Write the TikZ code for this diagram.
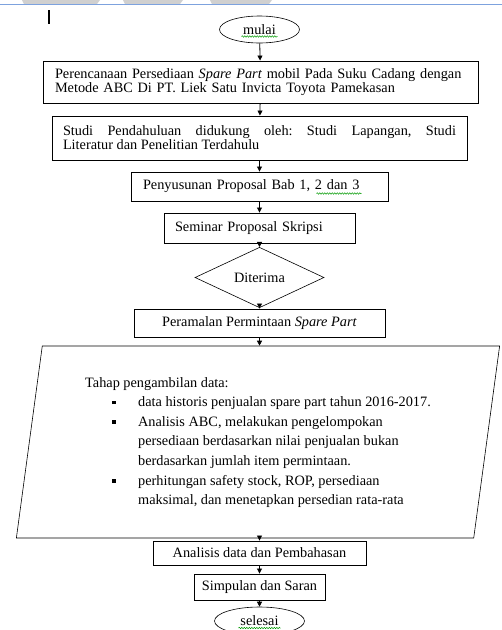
\documentclass[tikz,border=0pt]{standalone}
\usepackage{fontspec}
\setmainfont{Liberation Serif}
\usetikzlibrary{
  calc,
  positioning,
  arrows.meta,
  shapes.geometric,
  decorations.pathmorphing}
\definecolor{rulerblue}{RGB}{125,162,222}
\definecolor{tabgray}{RGB}{208,208,208}
\newcommand{\blt}{\rule[2.5pt]{3.5pt}{3.5pt}}
\frenchspacing

\begin{document}
\begin{tikzpicture}[
  x=1pt, y=-1pt,
  every node/.style={font=\fontsize{14.3}{14}\selectfont},
  proc/.style={rectangle,draw,line width=0.9pt,inner sep=0pt},
  term/.style={ellipse,draw,line width=0.6pt,inner sep=0pt},
  flow/.style={line width=0.8pt,-{Triangle[length=5pt,width=5pt]}},
  spell/.style={green!60!black,line width=0.5pt,decorate,
    decoration={snake,amplitude=0.7pt,segment length=2.5pt}}
]%
  \useasboundingbox (0,0) rectangle (502,630);

  % Window edge
  \fill[tabgray] (22,0) -- (100,0) -- (97,4) -- (24,4) -- cycle;
  \fill[tabgray] (123,0) -- (183,0) -- (180,4) -- (125,4) -- cycle;
  \fill[tabgray] (210,0) -- (272,0) -- (269,4) -- (212,4) -- cycle;
  \draw[rulerblue,line width=0.8pt] (0,4.5) -- (502,4.5);
  \fill (47.6,10) rectangle (50,24);

  % Start
  \node[term,minimum width=80,minimum height=27] (mulai) at (259.5,29.5) {mulai};

  % Preparation
  \node[proc,minimum width=435,minimum height=42,text width=411,align=left]
    (judul) at (260.5,82)
    {\mbox{Perencanaan Persediaan \textit{Spare Part} mobil Pada Suku Cadang dengan}\\
     \mbox{Metode ABC Di PT. Liek Satu Invicta Toyota Pamekasan}};
  \node[proc,minimum width=415,minimum height=44,text width=393,align=justify]
    (studi) at (259.5,138)
    {Studi Pendahuluan didukung oleh: Studi Lapangan, Studi\linebreak
     Literatur dan Penelitian Terdahulu};
  \node[proc,minimum width=257,minimum height=29,text width=233,align=left]
    (proposal) at (259.5,186.5) {Penyusunan Proposal Bab 1, 2 dan 3};
  \node[proc,minimum width=191,minimum height=30,text width=169,align=left]
    (seminar) at (259.5,228) {Seminar Proposal Skripsi};
  \node[diamond,draw,line width=0.6pt,inner sep=0pt,
    minimum width=129,minimum height=39] (terima) at (259.5,277.5) {Diterima};

  % Forecast and data
  \node[proc,minimum width=251,minimum height=28] (ramal) at (259.5,323)
    {Peramalan Permintaan \textit{Spare Part}};
  \node[trapezium,draw,line width=0.6pt,inner sep=0pt,
    trapezium left angle=81.4,trapezium right angle=98.6,
    trapezium stretches=true,minimum width=484,minimum height=192]
    (data) at (258,442)
    {\renewcommand{\arraystretch}{1.4}%
     \begin{tabular}{@{}p{53pt}@{}l@{}}
       \multicolumn{2}{@{}l@{}}{Tahap pengambilan data:}\\
       \hspace*{27pt}\blt & data historis penjualan spare part tahun 2016-2017.\\
       \hspace*{27pt}\blt & Analisis ABC, melakukan pengelompokan\\
                          & persediaan berdasarkan nilai penjualan bukan\\
                          & berdasarkan jumlah item permintaan.\\
       \hspace*{27pt}\blt & perhitungan safety stock, ROP, persediaan\\
                          & maksimal, dan menetapkan persedian rata-rata
     \end{tabular}};

  % Finish
  \node[proc,minimum width=213,minimum height=24] (analisis) at (259.5,553)
    {Analisis data dan Pembahasan};
  \node[proc,minimum width=131,minimum height=26] (simpulan) at (259.5,587)
    {Simpulan dan Saran};
  \node[term,minimum width=90,minimum height=28] (selesai) at (259.5,621) {selesai};

  % Flow
  \draw[flow] (mulai) -- (judul);
  \draw[flow] (judul) -- (studi);
  \draw[flow] (studi) -- (proposal);
  \draw[flow] (proposal) -- (seminar);
  \draw[flow] (seminar) -- (terima);
  \draw[flow] (terima) -- (ramal);
  \draw[flow] (ramal.south) -- (ramal.south |- data.north);
  \draw[flow] (analisis.north |- data.south) -- (analisis.north);
  \draw[flow] (analisis) -- (simpulan);
  \draw[flow] (simpulan) -- (selesai);

  % Spelling marks
  \draw[spell] ($(mulai.center)+(-18,7)$) -- ++(36,0);
  \draw[spell] ($(proposal.center)+(57,7)$) -- ++(45,0);
  \draw[spell] ($(selesai.center)+(-21,7)$) -- ++(42,0);

\end{tikzpicture}
\end{document}
